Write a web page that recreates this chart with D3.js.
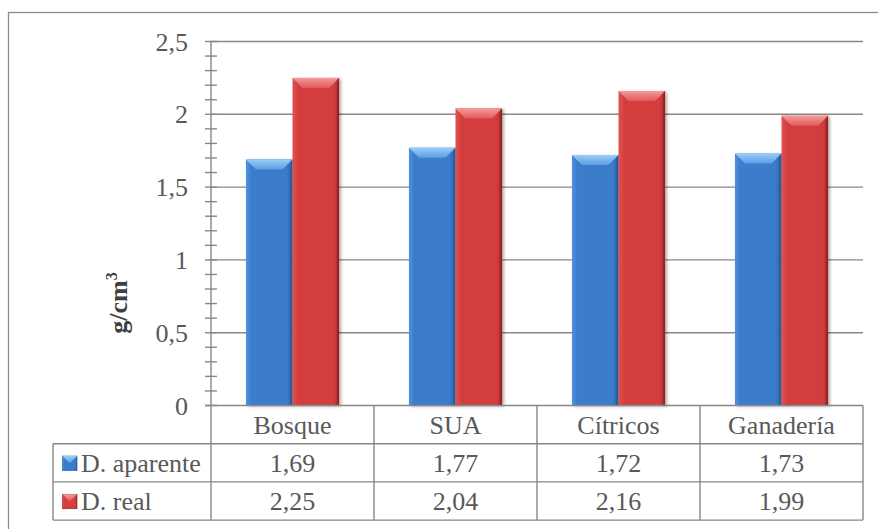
<!DOCTYPE html>
<html>
<head>
<meta charset="utf-8">
<script src="https://cdn.jsdelivr.net/npm/d3@7"></script>
<style>
  html, body { margin: 0; padding: 0; background: #fff; }
  svg { display: block; }
</style>
</head>
<body>
<svg id="chart" width="878" height="529"></svg>
<script>
// Densidad aparente y densidad real por uso de suelo (g/cm³)
const categories = ["Bosque", "SUA", "Cítricos", "Ganadería"];
const seriesNames = ["D. aparente", "D. real"];
const aparente = [1.69, 1.77, 1.72, 1.73];
const real = [2.25, 2.04, 2.16, 1.99];
const yTicks = [0, 0.5, 1, 1.5, 2, 2.5];
const yMinorTicks = d3.range(0, 2.5001, 0.1);
const yTitle = "g/cm";

const seriesValues = [aparente, real];

const FONT = "'Liberation Serif', Tinos, 'Times New Roman', 'DejaVu Serif', serif";
const svg = d3.select("#chart")
  .attr("font-family", FONT)
  .style("font-family", FONT);
const W = 878, H = 529;

// Layout
const plot = { left: 211, right: 863, top: 41.5, bottom: 405.5 };
const rowH = 38.2;
const tableLeft = 53;
const fs = 26;
const gridColor = "#878787";
const textColor = "#595959";

const locale = d3.formatLocale({ decimal: ",", thousands: ".", grouping: [3], currency: ["", ""] });
const fmtTick = v => locale.format("~g")(v);
const fmtVal = locale.format(".2f");

const x = d3.scaleBand().domain(categories).range([plot.left, plot.right]).paddingInner(0).paddingOuter(0);
const xs = d3.scaleBand().domain(seriesNames).range([0, x.bandwidth()]).paddingInner(0).paddingOuter(0.75);
const y = d3.scaleLinear().domain([0, 2.5]).range([plot.bottom, plot.top]);

const palettes = {
  "D. aparente": { body0: "#4f93e0", body1: "#3a7bcb", body2: "#2a5f9f", top0: "#9accf6", top1: "#5c9de4", edge: "#24538c" },
  "D. real":     { body0: "#e05252", body1: "#d43e3e", body2: "#a42a2a", top0: "#f49a9a", top1: "#e25a5a", edge: "#8a2020" }
};

const defs = svg.append("defs");
seriesNames.forEach((s, i) => {
  const p = palettes[s];
  const g = defs.append("linearGradient").attr("id", "body" + i).attr("x1", 0).attr("x2", 1).attr("y1", 0).attr("y2", 0);
  g.append("stop").attr("offset", "0%").attr("stop-color", p.body0);
  g.append("stop").attr("offset", "12%").attr("stop-color", p.body1);
  g.append("stop").attr("offset", "88%").attr("stop-color", p.body1);
  g.append("stop").attr("offset", "100%").attr("stop-color", p.body2);
  const t = defs.append("linearGradient").attr("id", "top" + i).attr("x1", 0).attr("x2", 0).attr("y1", 0).attr("y2", 1);
  t.append("stop").attr("offset", "0%").attr("stop-color", p.top0);
  t.append("stop").attr("offset", "100%").attr("stop-color", p.top1);
});
const shadow = defs.append("filter").attr("id", "shadow").attr("x", "-20%").attr("y", "-10%").attr("width", "150%").attr("height", "130%");
shadow.append("feDropShadow").attr("dx", 2).attr("dy", 1).attr("stdDeviation", 1.5)
  .attr("flood-color", "#000").attr("flood-opacity", 0.3);

// Outer chart frame
svg.append("rect").attr("x", 8.5).attr("y", 12.5).attr("width", W + 20).attr("height", H + 20)
  .attr("fill", "none").attr("stroke", "#8c8c8c").attr("stroke-width", 1.3);

// Gridlines
svg.append("g").selectAll("line").data(yTicks.filter(d => d > 0)).join("line")
  .attr("x1", plot.left).attr("x2", plot.right)
  .attr("y1", d => y(d)).attr("y2", d => y(d))
  .attr("stroke", gridColor).attr("stroke-width", 1.4);

// Y axis with cross ticks
const yAxisG = svg.append("g");
yAxisG.selectAll("line.minor").data(yMinorTicks).join("line").attr("class", "minor")
  .attr("x1", plot.left - 6).attr("x2", plot.left + 6)
  .attr("y1", d => y(d)).attr("y2", d => y(d))
  .attr("stroke", gridColor).attr("stroke-width", 1.4);
yAxisG.append("line").attr("x1", plot.left).attr("x2", plot.left)
  .attr("y1", plot.top).attr("y2", plot.bottom + 3 * rowH + 0.5)
  .attr("stroke", gridColor).attr("stroke-width", 1.4);
yAxisG.selectAll("text").data(yTicks).join("text")
  .attr("x", 188).attr("y", d => y(d) + 9)
  .attr("text-anchor", "end").attr("font-size", fs).attr("fill", textColor)
  .text(d => fmtTick(d));

// Axis title
svg.append("text")
  .attr("transform", "translate(127,303) rotate(-90)")
  .attr("text-anchor", "middle").attr("font-size", fs).attr("font-weight", "bold")
  .attr("fill", "#404040")
  .call(t => {
    t.append("tspan").text(yTitle);
    t.append("tspan").attr("font-size", fs * 0.62).attr("dy", -10).text("3");
  });

// Bars
const bevel = 10;
const groups = svg.append("g").selectAll("g").data(categories).join("g")
  .attr("transform", d => `translate(${x(d)},0)`);
seriesNames.forEach((s, si) => {
  const p = palettes[s];
  const bars = groups.append("g").attr("filter", "url(#shadow)");
  bars.each(function(cat, ci) {
    const g = d3.select(this);
    const v = seriesValues[si][ci];
    const x0 = xs(s), w = xs.bandwidth();
    const y0 = y(v), y1 = y(0);
    g.append("rect").attr("x", x0).attr("y", y0).attr("width", w).attr("height", y1 - y0)
      .attr("fill", `url(#body${si})`);
    g.append("path")
      .attr("d", `M${x0},${y0}L${x0 + w},${y0}L${x0 + w - bevel},${y0 + bevel}L${x0 + bevel},${y0 + bevel}Z`)
      .attr("fill", `url(#top${si})`);
    g.append("path")
      .attr("d", `M${x0 + w},${y0}L${x0 + w},${y1}L${x0 + w - 2},${y1}L${x0 + w - 2},${y0 + 2}Z`)
      .attr("fill", p.edge).attr("opacity", 0.6);
  });
});

// X axis baseline
svg.append("line").attr("x1", plot.left - 6).attr("x2", plot.right)
  .attr("y1", plot.bottom).attr("y2", plot.bottom)
  .attr("stroke", gridColor).attr("stroke-width", 1.6);

// Data table
const table = svg.append("g");
const rowsY = [plot.bottom, plot.bottom + rowH, plot.bottom + 2 * rowH, plot.bottom + 3 * rowH];
[1, 2, 3].forEach(i => {
  table.append("line").attr("x1", tableLeft).attr("x2", plot.right)
    .attr("y1", rowsY[i]).attr("y2", rowsY[i])
    .attr("stroke", gridColor).attr("stroke-width", 1.4);
});
table.append("line").attr("x1", tableLeft).attr("x2", tableLeft)
  .attr("y1", rowsY[1]).attr("y2", rowsY[3]).attr("stroke", gridColor).attr("stroke-width", 1.4);
categories.forEach(c => {
  table.append("line").attr("x1", x(c) + x.bandwidth()).attr("x2", x(c) + x.bandwidth())
    .attr("y1", rowsY[0]).attr("y2", rowsY[3]).attr("stroke", gridColor).attr("stroke-width", 1.4);
});
table.selectAll("text.cat").data(categories).join("text").attr("class", "cat")
  .attr("x", d => x(d) + x.bandwidth() / 2).attr("y", rowsY[0] + rowH / 2 + 9)
  .attr("text-anchor", "middle").attr("font-size", fs).attr("fill", textColor).text(d => d);
seriesNames.forEach((s, si) => {
  const cy = rowsY[si + 1] + rowH / 2;
  const p = palettes[s];
  const mx = 62.5, ms = 14.5, my = cy - ms / 2 + 0.5;
  table.append("rect").attr("x", mx).attr("y", my).attr("width", ms).attr("height", ms)
    .attr("fill", `url(#body${si})`).attr("stroke", p.edge).attr("stroke-width", 0.6);
  table.append("path")
    .attr("d", `M${mx},${my}L${mx + ms},${my}L${mx + ms / 2},${my + ms / 2}Z`)
    .attr("fill", `url(#top${si})`);
  table.append("text").attr("x", 81).attr("y", cy + 9).attr("font-size", fs).attr("fill", textColor).text(s);
  table.selectAll("text.v" + si).data(categories).join("text").attr("class", "v" + si)
    .attr("x", d => x(d) + x.bandwidth() / 2).attr("y", cy + 9)
    .attr("text-anchor", "middle").attr("font-size", fs).attr("fill", textColor)
    .text((d, ci) => fmtVal(seriesValues[si][ci]));
});
</script>
</body>
</html>
